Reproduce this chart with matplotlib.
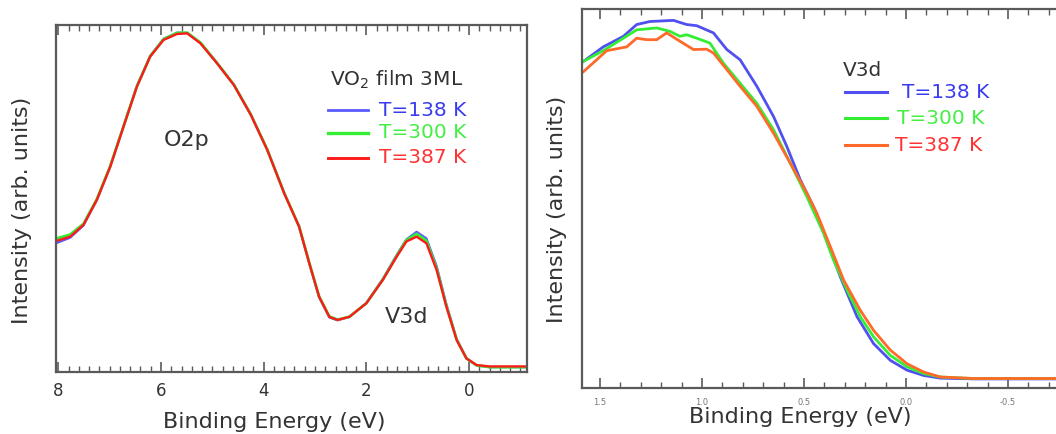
import matplotlib
matplotlib.use("Agg")
import matplotlib.pyplot as plt
from matplotlib.ticker import MultipleLocator, NullLocator

plt.rcParams['font.family'] = ['DejaVu Sans']

# ---------------- Left panel data (valence band, normalized intensity) ----------------
E_left = [8.03, 7.77, 7.51, 7.25, 6.99, 6.73, 6.47, 6.21, 5.95, 5.69, 5.49, 5.23, 4.91,
          4.58, 4.25, 3.93, 3.60, 3.31, 3.11, 2.92, 2.72, 2.56, 2.33, 2.00, 1.68, 1.41,
          1.22, 1.02, 0.83, 0.63, 0.44, 0.24, 0.05, -0.15, -0.40, -0.80, -1.10]
I_left_138 = [0.372, 0.387, 0.422, 0.495, 0.591, 0.708, 0.824, 0.911, 0.960, 0.978, 0.977,
              0.948, 0.891, 0.828, 0.742, 0.641, 0.516, 0.419, 0.312, 0.215, 0.157, 0.149,
              0.159, 0.199, 0.268, 0.337, 0.382, 0.404, 0.385, 0.305, 0.195, 0.095, 0.040,
              0.019, 0.014, 0.014, 0.014]
I_left_300 = [0.385, 0.396, 0.427, 0.498, 0.593, 0.708, 0.823, 0.910, 0.959, 0.977, 0.978,
              0.949, 0.891, 0.828, 0.742, 0.641, 0.516, 0.420, 0.314, 0.218, 0.160, 0.151,
              0.159, 0.198, 0.266, 0.334, 0.380, 0.398, 0.378, 0.298, 0.190, 0.093, 0.039,
              0.019, 0.014, 0.014, 0.014]
I_left_387 = [0.378, 0.390, 0.424, 0.496, 0.591, 0.707, 0.822, 0.909, 0.957, 0.974, 0.976,
              0.947, 0.890, 0.827, 0.741, 0.640, 0.515, 0.419, 0.313, 0.217, 0.159, 0.150,
              0.159, 0.198, 0.265, 0.332, 0.376, 0.390, 0.371, 0.294, 0.188, 0.092, 0.039,
              0.020, 0.016, 0.016, 0.016]

# ---------------- Right panel data (V3d zoom) ----------------
E_b = [1.58, 1.484, 1.385, 1.32, 1.255, 1.14, 1.075, 1.026, 0.944, 0.878, 0.813, 0.731,
       0.649, 0.584, 0.518, 0.453, 0.388, 0.322, 0.24, 0.159, 0.077, -0.005, -0.087,
       -0.169, -0.332, -0.74]
I_b = [0.862, 0.900, 0.928, 0.959, 0.967, 0.970, 0.959, 0.956, 0.937, 0.893, 0.866, 0.796,
       0.716, 0.637, 0.549, 0.478, 0.390, 0.293, 0.188, 0.117, 0.073, 0.047, 0.033, 0.026,
       0.024, 0.024]

E_g = [1.58, 1.484, 1.385, 1.32, 1.222, 1.157, 1.108, 1.075, 1.026, 0.961, 0.895, 0.813,
       0.731, 0.649, 0.567, 0.486, 0.404, 0.355, 0.289, 0.224, 0.159, 0.077, -0.005, -0.087,
       -0.169, -0.332, -0.74]
I_g = [0.862, 0.890, 0.923, 0.945, 0.950, 0.941, 0.928, 0.932, 0.923, 0.910, 0.857, 0.804,
       0.751, 0.681, 0.593, 0.505, 0.408, 0.337, 0.258, 0.188, 0.135, 0.086, 0.056, 0.038,
       0.029, 0.025, 0.025]

E_o = [1.58, 1.467, 1.369, 1.32, 1.271, 1.222, 1.173, 1.108, 1.042, 0.977, 0.944, 0.878,
       0.813, 0.731, 0.649, 0.567, 0.486, 0.437, 0.371, 0.306, 0.224, 0.159, 0.077, -0.005,
       -0.087, -0.169, -0.332, -0.74]
I_o = [0.835, 0.890, 0.900, 0.923, 0.919, 0.919, 0.937, 0.915, 0.893, 0.894, 0.884, 0.840,
       0.796, 0.743, 0.672, 0.593, 0.514, 0.461, 0.373, 0.285, 0.205, 0.152, 0.100, 0.064,
       0.042, 0.029, 0.025, 0.025]

labels = ['T=138 K', 'T=300 K', 'T=387 K']

W, H = 1056, 434
fig = plt.figure(figsize=(W / 100, H / 100), dpi=100)
fig.patch.set_facecolor('white')

spine_col = '#5a5a5a'
text_col = '#333333'

def px_axes(x0, y0, x1, y1):
    return fig.add_axes([x0 / W, (H - y1) / H, (x1 - x0) / W, (y1 - y0) / H])

# ---------------- Left axes ----------------
ax1 = px_axes(56, 25, 527, 372)
c_left = ['#5a5aff', '#33ee33', '#ff1a1a']
lw_left = [1.6, 2.0, 1.7]
for I, c, lw in zip([I_left_138, I_left_300, I_left_387], c_left, lw_left):
    ax1.plot(E_left, I, color=c, lw=lw, solid_joinstyle='round')
ax1.set_xlim(8.045, -1.13)
ax1.set_ylim(0, 1)
ax1.xaxis.set_major_locator(MultipleLocator(2))
ax1.xaxis.set_minor_locator(MultipleLocator(0.2))
ax1.yaxis.set_major_locator(NullLocator())
ax1.tick_params(axis='x', which='both', direction='in', top=True, bottom=True,
                color=spine_col, labelsize=12, labelcolor=text_col, pad=7)
ax1.tick_params(axis='x', which='major', length=7, width=1.2)
ax1.tick_params(axis='x', which='minor', length=4, width=1.0)
for s in ax1.spines.values():
    s.set_color(spine_col)
    s.set_linewidth(1.6)
ax1.set_xlabel('Binding Energy (eV)', fontsize=16, color=text_col)
ax1.xaxis.set_label_coords(0.463, -0.115)
ax1.set_ylabel('Intensity (arb. units)', fontsize=16, color=text_col)
ax1.yaxis.set_label_coords(-0.05, 0.466)

ax1.text(0.277, 0.669, 'O2p', transform=ax1.transAxes, fontsize=16, color=text_col,
         ha='center', va='center')
ax1.text(0.745, 0.158, 'V3d', transform=ax1.transAxes, fontsize=16, color=text_col,
         ha='center', va='center')

# legend (manual in axes coordinates)
ax1.text(0.582, 0.841, r'VO$_2$ film 3ML', transform=ax1.transAxes, fontsize=14.5,
         color=text_col, ha='left', va='center')
leg_text_cols = ['#3a3af0', '#44ee44', '#ff3333']
for i, (lab, c, tc, lw) in enumerate(zip(labels, c_left, leg_text_cols, lw_left)):
    yy = [0.755, 0.689, 0.617][i]
    ax1.plot([0.577, 0.662], [yy, yy], transform=ax1.transAxes, color=c, lw=lw + 0.4)
    ax1.text(0.686, yy, lab, transform=ax1.transAxes, fontsize=14.5, color=tc,
             ha='left', va='center')

# ---------------- Right axes ----------------
ax2 = px_axes(582, 9, 1056, 388)
c_right = ['#5050f0', '#33ee33', '#ff6a2a']
for E, I, c in zip([E_b, E_g, E_o], [I_b, I_g, I_o], c_right):
    ax2.plot(E, I, color=c, lw=2.0, solid_joinstyle='round')
ax2.set_xlim(1.588, -0.735)
ax2.set_ylim(0, 1)
ax2.xaxis.set_major_locator(MultipleLocator(0.5))
ax2.xaxis.set_minor_locator(MultipleLocator(0.1))
ax2.xaxis.set_major_formatter(plt.FuncFormatter(lambda v, p: f'{v:.1f}'))
ax2.yaxis.set_major_locator(NullLocator())
ax2.tick_params(axis='x', which='both', direction='in', top=True, bottom=True,
                color=spine_col, labelsize=6, labelcolor='#777777', pad=7)
ax2.tick_params(axis='x', which='major', length=7, width=1.2)
ax2.tick_params(axis='x', which='minor', length=4, width=1.0)
for s in ax2.spines.values():
    s.set_color(spine_col)
    s.set_linewidth(1.6)
ax2.spines['right'].set_visible(False)
ax2.set_xlabel('Binding Energy (eV)', fontsize=16, color=text_col)
ax2.xaxis.set_label_coords(0.46, -0.05)
ax2.set_ylabel('Intensity (arb. units)', fontsize=16, color=text_col)
ax2.yaxis.set_label_coords(-0.032, 0.47)

ax2.text(0.551, 0.839, 'V3d', transform=ax2.transAxes, fontsize=14.5, color=text_col,
         ha='left', va='center')
for i, (lab, c, tc) in enumerate(zip(labels, c_right, leg_text_cols)):
    yy = [0.781, 0.712, 0.641][i]
    ax2.plot([0.555, 0.643], [yy, yy], transform=ax2.transAxes, color=c, lw=2.2)
    xoff = [0.675, 0.665, 0.660][i]
    ax2.text(xoff, yy, lab, transform=ax2.transAxes, fontsize=14.5, color=tc,
             ha='left', va='center')

fig.savefig('out.png', dpi=100)
